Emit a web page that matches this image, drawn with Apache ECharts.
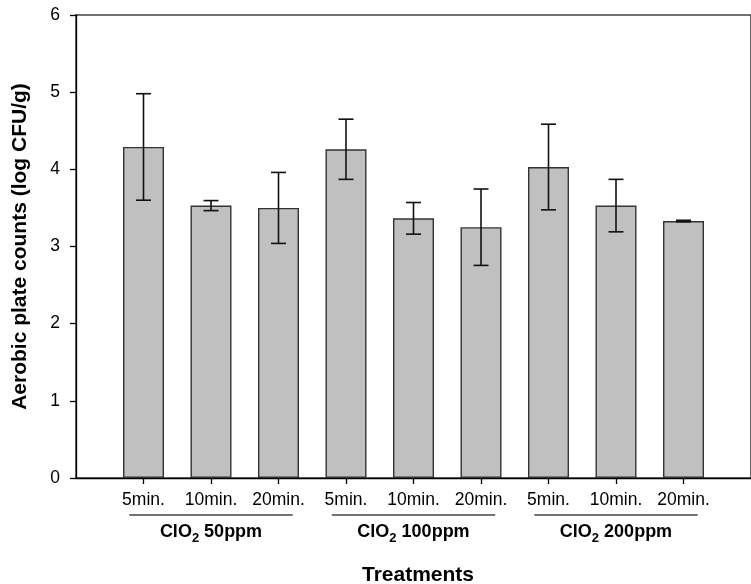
<!DOCTYPE html>
<html>
<head>
<meta charset="utf-8">
<script src="https://cdn.jsdelivr.net/npm/echarts@6/dist/echarts.min.js"></script>
<style>html,body{margin:0;padding:0;background:#fff}#c{width:751px;height:584px}</style>
</head>
<body>
<div id="c"></div>
<script>
// ---- data ----
var timeLabels = ['5min.', '10min.', '20min.', '5min.', '10min.', '20min.', '5min.', '10min.', '20min.'];
var means = [4.29, 3.53, 3.50, 4.26, 3.365, 3.25, 4.03, 3.53, 3.33];
var errors = [0.69, 0.065, 0.46, 0.39, 0.205, 0.495, 0.555, 0.34, 0.01];
var groupDoses = ['50ppm', '100ppm', '200ppm'];
var groupCenters = [2, 5, 8];
var xTitle = 'Treatments';
var yTitle = 'Aerobic plate counts (log CFU/g)';

var positions = timeLabels.map(function (_, i) { return i + 1; });
var barData = positions.map(function (p, i) { return [p, means[i]]; });
var errData = positions.map(function (p, i) { return [p, means[i] - errors[i], means[i] + errors[i]]; });
var groupData = groupCenters.map(function (c, i) { return [c, 0, i]; });

var FONT = '"Liberation Sans", Arial, sans-serif';
var chart = echarts.init(document.getElementById('c'), null, { renderer: 'canvas' });

chart.setOption({
  animation: false,
  backgroundColor: '#fff',
  grid: { left: 76, top: 15, width: 684, height: 463, show: true, borderColor: '#444', borderWidth: 1.6, backgroundColor: 'transparent' },
  graphic: [
    {
      type: 'text', x: 418, y: 575, z: 10,
      style: { text: xTitle, fontFamily: FONT, fontSize: 21, fontWeight: 'bold', fill: '#000', align: 'center', verticalAlign: 'middle' }
    },
    {
      type: 'text', x: 20, y: 246.5, rotation: Math.PI / 2, z: 10,
      style: { text: yTitle, fontFamily: FONT, fontSize: 21, fontWeight: 'bold', fill: '#000', align: 'center', verticalAlign: 'middle' }
    }
  ],
  xAxis: {
    type: 'value', min: 0, max: 10, interval: 1,
    splitLine: { show: false },
    axisLine: { onZero: false, lineStyle: { color: '#000', width: 1.3 } },
    axisTick: { show: true, length: 6, customValues: positions, lineStyle: { color: '#000', width: 1.3 } },
    axisLabel: {
      customValues: positions, margin: 13, color: '#000', fontFamily: FONT, fontSize: 17.5,
      formatter: function (v) { return timeLabels[Math.round(v) - 1] || ''; }
    }
  },
  yAxis: {
    type: 'value', min: 0, max: 6, interval: 1,
    splitLine: { show: false },
    axisLine: { show: true, lineStyle: { color: '#000', width: 1.3 } },
    axisTick: { show: true, length: 6, lineStyle: { color: '#000', width: 1.3 } },
    axisLabel: { margin: 16, color: '#000', fontFamily: FONT, fontSize: 17.5 }
  },
  series: [
    {
      type: 'bar', data: barData, barWidth: 41,
      itemStyle: { color: '#c0c0c0', borderColor: '#333', borderWidth: 1.4 }
    },
    {
      type: 'custom', data: errData, z: 5,
      renderItem: function (params, api) {
        var x = api.value(0);
        var lo = api.coord([x, api.value(1)]);
        var hi = api.coord([x, api.value(2)]);
        var hw = 7.5;
        var st = { stroke: '#111', lineWidth: 1.6 };
        return {
          type: 'group', children: [
            { type: 'line', shape: { x1: lo[0], y1: lo[1], x2: hi[0], y2: hi[1] }, style: st },
            { type: 'line', shape: { x1: lo[0] - hw, y1: lo[1], x2: lo[0] + hw, y2: lo[1] }, style: st },
            { type: 'line', shape: { x1: hi[0] - hw, y1: hi[1], x2: hi[0] + hw, y2: hi[1] }, style: st }
          ]
        };
      }
    },
    {
      type: 'custom', data: groupData, clip: false, z: 5,
      renderItem: function (params, api) {
        var c = api.value(0);
        var left = api.coord([c - 1.21, 0]);
        var right = api.coord([c + 1.21, 0]);
        var mid = api.coord([c, 0]);
        var dose = groupDoses[api.value(2)];
        return {
          type: 'group', children: [
            { type: 'line', shape: { x1: left[0], y1: left[1] + 37, x2: right[0], y2: right[1] + 37 }, style: { stroke: '#444', lineWidth: 1.6 } },
            {
              type: 'text', x: mid[0], y: mid[1] + 55,
              style: {
                text: '{b|ClO}{s|2}{b| ' + dose + '}',
                align: 'center', verticalAlign: 'middle',
                rich: {
                  b: { fontFamily: FONT, fontSize: 18, fontWeight: 'bold', fill: '#000', lineHeight: 20, verticalAlign: 'top' },
                  s: { fontFamily: FONT, fontSize: 13, fontWeight: 'bold', fill: '#000', lineHeight: 14, padding: [9, 0, 0, 0], verticalAlign: 'top' }
                }
              }
            }
          ]
        };
      }
    }
  ]
});
</script>
</body>
</html>
